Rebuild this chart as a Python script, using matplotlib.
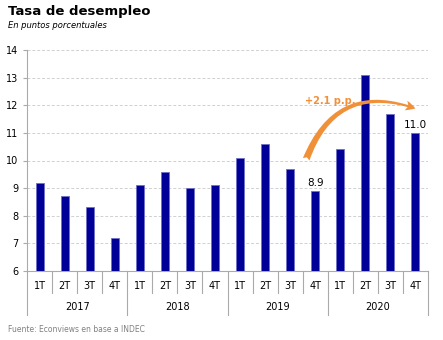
import matplotlib.pyplot as plt
from matplotlib.patches import FancyArrowPatch

quarters = ["1T", "2T", "3T", "4T"] * 4
years = ["2017", "2018", "2019", "2020"]
desempleo = [9.2, 8.7, 8.3, 7.2, 9.1, 9.6, 9.0, 9.1,
             10.1, 10.6, 9.7, 8.9, 10.4, 13.1, 11.7, 11.0]
yticks = [6, 7, 8, 9, 10, 11, 12, 13, 14]

fig = plt.figure(figsize=(4.43, 3.40), dpi=100)
ax = fig.add_axes([27 / 443, 69 / 340, 401 / 443, 221 / 340])

x = list(range(len(desempleo)))
ax.bar(x, [v - 6 for v in desempleo], bottom=6, width=0.32,
       color="#000099", edgecolor="#6f6fc8", linewidth=0.6, zorder=3)

ax.set_xlim(-0.5, len(desempleo) - 0.5)
ax.set_ylim(6, 14)
ax.set_yticks(yticks)
ax.set_yticklabels([str(t) for t in yticks], fontsize=7)
ax.tick_params(axis="y", length=3, color="#aaaaaa", pad=3)
ax.set_xticks([])
ax.yaxis.grid(True, color="#d0d0d0", linestyle=(0, (3, 2)), linewidth=0.7)
ax.set_axisbelow(True)
for s in ["top", "right"]:
    ax.spines[s].set_visible(False)
for s in ["left", "bottom"]:
    ax.spines[s].set_color("#aaaaaa")

# category axis: quarter labels, year labels and separators
trans = ax.get_xaxis_transform()
for i, q in enumerate(quarters):
    ax.text(i, -0.068, q, transform=trans, ha="center", va="center", fontsize=7)
for j, yr in enumerate(years):
    ax.text(j * 4 + 1.5, -0.163, yr, transform=trans, ha="center",
            va="center", fontsize=7)
for i in range(len(desempleo) + 1):
    depth = -0.2 if i % 4 == 0 else -0.1
    ax.plot([i - 0.5, i - 0.5], [0, depth], transform=trans, color="#aaaaaa",
            linewidth=0.8, clip_on=False)

# value labels
ax.text(11, desempleo[11] + 0.12, "8.9", ha="center", va="bottom", fontsize=7.5)
ax.text(15, desempleo[15] + 0.12, "11.0", ha="center", va="bottom", fontsize=7.5)

# curved arrow
arrow = FancyArrowPatch((10.6, 9.95), (15.1, 11.85),
                        connectionstyle="arc3,rad=-0.5",
                        arrowstyle="fancy,head_length=7,head_width=7,tail_width=5",
                        color="#f0913a", linewidth=0, zorder=4)
ax.add_patch(arrow)
ax.text(11.6, 12.15, "+2.1 p.p.", color="#f0913a", fontsize=7,
        fontweight="bold", ha="center", va="center", zorder=5)

fig.text(8 / 443, 1 - 11 / 340, "Tasa de desempleo", fontsize=9.5,
         fontweight="bold", va="center")
fig.text(8 / 443, 1 - 25 / 340, "En puntos porcentuales", fontsize=6,
         style="italic", va="center")
fig.text(8 / 443, 1 - 329 / 340, "Fuente: Econviews en base a INDEC",
         fontsize=5.5, color="#808080", va="center")

fig.savefig("out.png", dpi=100)
